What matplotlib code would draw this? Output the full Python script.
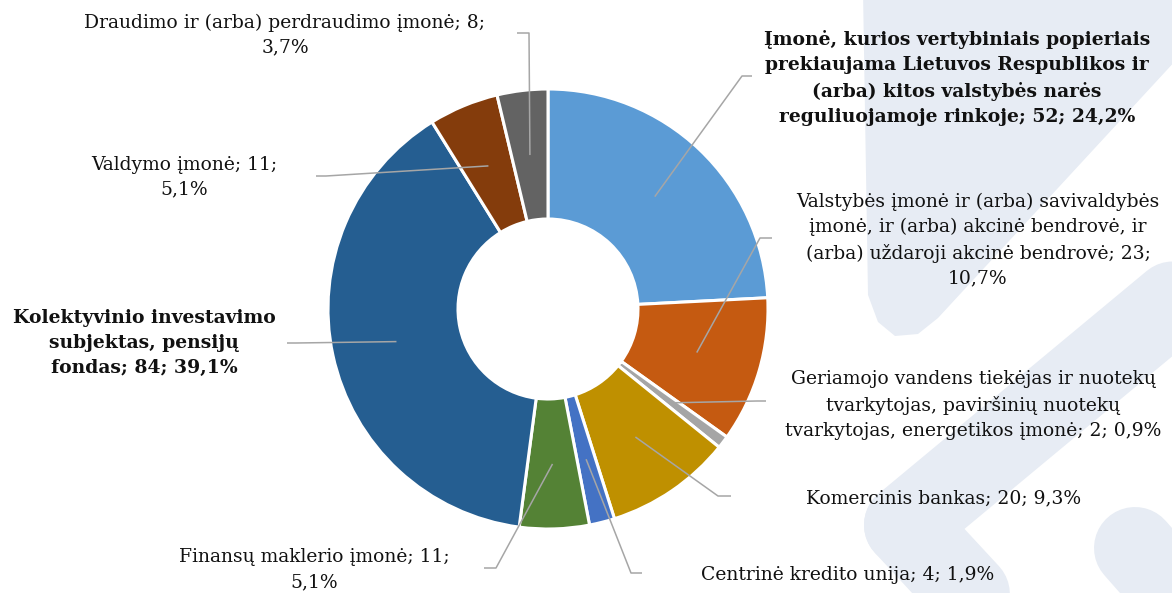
import textwrap
import numpy as np
import matplotlib.pyplot as plt
from matplotlib.patches import Polygon

# data
categories = [
    "Įmonė, kurios vertybiniais popieriais prekiaujama Lietuvos Respublikos ir (arba) kitos valstybės narės reguliuojamoje rinkoje",
    "Valstybės įmonė ir (arba) savivaldybės įmonė, ir (arba) akcinė bendrovė, ir (arba) uždaroji akcinė bendrovė",
    "Geriamojo vandens tiekėjas ir nuotekų tvarkytojas, paviršinių nuotekų tvarkytojas, energetikos įmonė",
    "Komercinis bankas",
    "Centrinė kredito unija",
    "Finansų maklerio įmonė",
    "Kolektyvinio investavimo subjektas, pensijų fondas",
    "Valdymo įmonė",
    "Draudimo ir (arba) perdraudimo įmonė",
]
counts = [52, 23, 2, 20, 4, 11, 84, 11, 8]
shares = ["24,2%", "10,7%", "0,9%", "9,3%", "1,9%", "5,1%", "39,1%", "5,1%", "3,7%"]
colors = ["#5B9BD5", "#C55A11", "#A5A5A5", "#BF9000", "#4472C4",
          "#548235", "#255E91", "#843C0C", "#636363"]
bold = [True, False, False, False, False, False, True, False, False]

# layout (pixels, y measured from top)
W, H = 1172, 593
cx, cy, R, hole = 548, 309, 220, 90
wrap = [37, 38, 39, 40, 40, 30, 24, 19, 42]
text_pos = [(957, 78), (978, 240), (973, 405), (944, 498), (848, 575),
            (314, 570), (144, 343), (184, 177), (285, 35)]
elbows = [(742, 76), (760, 238), (757, 401), (718, 496), (631, 573),
          (496, 568), (296, 343), (326, 176), (529, 33)]
ends = [752, 772, 766, 731, 642, 484, 287, 316, 517]

plt.rcParams['font.family'] = ['DejaVu Serif']

fig = plt.figure(figsize=(W / 100, H / 100), dpi=100)
ax = fig.add_axes([0, 0, 1, 1])

# faint watermark shapes in the background
wm = "#E7ECF4"
ax.add_patch(Polygon([(863, H + 10), (1190, H + 10), (1190, H - 45), (938, H - 318),
                      (918, H - 334), (895, H - 336), (878, H - 322), (868, H - 295)],
                     closed=True, color=wm, zorder=0, lw=0))
for (x0, y0), (x1, y1), w in [((905, 525), (1200, 280), 82), ((905, 525), (1030, 660), 82),
                              ((1135, 548), (1260, 690), 82)]:
    ax.plot([x0, x1], [H - y0, H - y1], color=wm, lw=w * 0.72,
            solid_capstyle='round', zorder=0)

ax.pie(counts, colors=colors, startangle=90, counterclock=False,
       center=(cx, H - cy), radius=R,
       wedgeprops=dict(width=R - hole, edgecolor='white', linewidth=2.2))

total = sum(counts)
cum = np.cumsum([0] + counts)
rm = (R + hole) / 2
for i, (cat, n, s) in enumerate(zip(categories, counts, shares)):
    mid = (cum[i] + n / 2) / total * 360
    ang = np.deg2rad(90 - mid)
    ax0 = cx + rm * np.cos(ang)
    ay0 = (H - cy) + rm * np.sin(ang)
    ex, ey = elbows[i]
    ax.plot([ax0, ex, ends[i]], [ay0, H - ey, H - ey], color="#A6A6A6",
            lw=1.1, zorder=3, solid_capstyle='butt')
    label = textwrap.fill(f"{cat}; {n}; {s}", wrap[i])
    tx, ty = text_pos[i]
    ax.text(tx, H - ty, label, ha='center', va='center', multialignment='center',
            fontsize=13.5, fontweight='bold' if bold[i] else 'normal',
            color="#111111", linespacing=1.5)

ax.set_xlim(0, W)
ax.set_ylim(0, H)
ax.set_aspect('equal')
ax.axis('off')
fig.savefig("out.png", dpi=100)
